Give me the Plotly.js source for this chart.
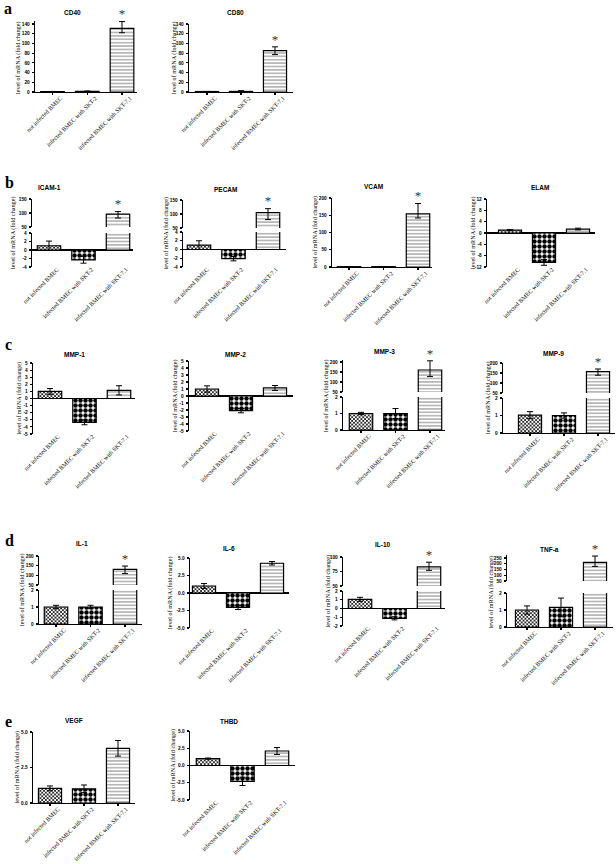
<!DOCTYPE html>
<html><head><meta charset="utf-8">
<script src="https://cdn.plot.ly/plotly-3.0.1.min.js"></script>
<style>html,body{margin:0;padding:0;background:#fff;} #chart{width:616px;height:864px;}</style>
</head><body><div id="chart"></div>
<script>
// ---------------- DATA ----------------
const categories = ["not infected BMEC", "infected BMEC with SKT-2", "infected BMEC with SKT-7.1"];
const yTitle = "level of mRNA (fold change)";

const cd40Values = [1, 1.3, 131];   const cd40ErrPlus = [0.2, 0.8, 14];   const cd40ErrMinus = [0.2, 0.8, 9];   const cd40Sig = [false, false, true];
const cd80Values = [1, 1.2, 85];    const cd80ErrPlus = [0.2, 1.5, 8];    const cd80ErrMinus = [0.2, 1.5, 8];   const cd80Sig = [false, false, true];
const icamValues = [1, -2.3, 96];   const icamErrPlus = [1.1, 0.8, 9];    const icamErrMinus = [1.1, 0.8, 14];  const icamSig = [false, false, true];
const pecamValues = [1, -2.1, 105]; const pecamErrPlus = [1.0, 0.5, 14]; const pecamErrMinus = [1.0, 0.5, 25]; const pecamSig = [false, false, true];
const vcamValues = [1, 1, 154];     const vcamErrPlus = [0.3, 0.3, 30];   const vcamErrMinus = [0.3, 0.3, 12];  const vcamSig = [false, false, true];
const elamValues = [1, -10.4, 1.4]; const elamErrPlus = [0.2, 1.0, 0.3];  const elamErrMinus = [0.2, 1.0, 0.3]; const elamSig = [false, false, false];
const mmp1Values = [1, -3.35, 1.15]; const mmp1ErrPlus = [0.4, 0.35, 0.65]; const mmp1ErrMinus = [0.4, 0.35, 0.65]; const mmp1Sig = [false, false, false];
const mmp2Values = [1, -2.1, 1.15]; const mmp2ErrPlus = [0.45, 0.3, 0.35]; const mmp2ErrMinus = [0.45, 0.3, 0.35]; const mmp2Sig = [false, false, false];
const mmp3Values = [1, 1, 160];     const mmp3ErrPlus = [0.07, 0.3, 46];  const mmp3ErrMinus = [0.07, 0.3, 33]; const mmp3Sig = [false, false, true];
const mmp9Values = [1.02, 1.0, 157]; const mmp9ErrPlus = [0.2, 0.15, 13]; const mmp9ErrMinus = [0.2, 0.15, 18]; const mmp9Sig = [false, false, true];
const il1Values = [1, 1, 131];      const il1ErrPlus = [0.1, 0.1, 17];    const il1ErrMinus = [0.1, 0.1, 22];   const il1Sig = [false, false, true];
const il6Values = [1, -2.05, 4.25]; const il6ErrPlus = [0.35, 0.3, 0.25]; const il6ErrMinus = [0.35, 0.3, 0.25]; const il6Sig = [false, false, false];
const il10Values = [1.05, -1.12, 83]; const il10ErrPlus = [0.23, 0.18, 8]; const il10ErrMinus = [0.23, 0.18, 6]; const il10Sig = [false, false, true];
const tnfValues = [1, 1.15, 212];   const tnfErrPlus = [0.24, 0.55, 55];  const tnfErrMinus = [0.24, 0.55, 35]; const tnfSig = [false, false, true];
const vegfValues = [1.03, 1.0, 3.85]; const vegfErrPlus = [0.17, 0.27, 0.55]; const vegfErrMinus = [0.17, 0.27, 0.55]; const vegfSig = [false, false, false];
const thbdValues = [1, -2.3, 2.1];  const thbdErrPlus = [0.08, 0.6, 0.5]; const thbdErrMinus = [0.08, 0.6, 0.5]; const thbdSig = [false, false, false];

const panelLetters = ["a", "b", "c", "d", "e"];

// ---------------- LAYOUT SPECS (pixel positions) ----------------
const W = 616, H = 864;
const panels = [
 {name:"CD40", v:cd40Values, ep:cd40ErrPlus, em:cd40ErrMinus, sig:cd40Sig, ax:35, c1:52.5, c3:122, xr:137, segs:[{t:24,b:92,r:[0,140],s:20}], tx:72, ty:13, yt:18},
 {name:"CD80", v:cd80Values, ep:cd80ErrPlus, em:cd80ErrMinus, sig:cd80Sig, ax:189, c1:207, c3:275, xr:293, segs:[{t:24,b:92,r:[0,140],s:20}], tx:235, ty:13, yt:174},
 {name:"ICAM-1", v:icamValues, ep:icamErrPlus, em:icamErrMinus, sig:icamSig, ax:32, c1:49, c3:118, xr:133, segs:[{t:233,b:267,r:[-4,4],s:2},{t:199,b:227,r:[50,150],s:50}], tx:49, ty:188, yt:13},
 {name:"PECAM", v:pecamValues, ep:pecamErrPlus, em:pecamErrMinus, sig:pecamSig, ax:183, c1:199, c3:268, xr:286, segs:[{t:232,b:267,r:[-4,4],s:2},{t:200,b:228,r:[50,150],s:50}], tx:225, ty:189, yt:165},
 {name:"VCAM", v:vcamValues, ep:vcamErrPlus, em:vcamErrMinus, sig:vcamSig, ax:332, c1:349, c3:418, xr:432, segs:[{t:198,b:267,r:[0,200],s:50}], tx:374, ty:187, yt:314},
 {name:"ELAM", v:elamValues, ep:elamErrPlus, em:elamErrMinus, sig:elamSig, ax:487, c1:510, c3:578, xr:595, segs:[{t:199,b:267,r:[-12,12],s:4}], tx:540, ty:188, yt:473},
 {name:"MMP-1", v:mmp1Values, ep:mmp1ErrPlus, em:mmp1ErrMinus, sig:mmp1Sig, ax:33, c1:50, c3:119, xr:135, segs:[{t:363,b:434,r:[-5,5],s:1}], tx:74, ty:354, yt:18},
 {name:"MMP-2", v:mmp2Values, ep:mmp2ErrPlus, em:mmp2ErrMinus, sig:mmp2Sig, ax:189, c1:207, c3:275, xr:293, segs:[{t:361,b:431,r:[-5,5],s:1}], tx:235, ty:354, yt:175},
 {name:"MMP-3", v:mmp3Values, ep:mmp3ErrPlus, em:mmp3ErrMinus, sig:mmp3Sig, ax:343, c1:361, c3:430, xr:445, segs:[{t:397,b:430,r:[0,2],s:1},{t:362,b:392,r:[50,200],s:50}], tx:384, ty:351, yt:326},
 {name:"MMP-9", v:mmp9Values, ep:mmp9ErrPlus, em:mmp9ErrMinus, sig:mmp9Sig, ax:503, c1:530, c3:598, xr:615, segs:[{t:398,b:433,r:[0,2],s:1},{t:363,b:393,r:[50,200],s:50}], tx:553, ty:353, yt:488},
 {name:"IL-1", v:il1Values, ep:il1ErrPlus, em:il1ErrMinus, sig:il1Sig, ax:39, c1:56, c3:125, xr:142, segs:[{t:590,b:624,r:[0,2],s:1},{t:556,b:585,r:[50,200],s:50}], tx:82, ty:543, yt:22},
 {name:"IL-6", v:il6Values, ep:il6ErrPlus, em:il6ErrMinus, sig:il6Sig, ax:190, c1:204, c3:272, xr:289, dec:1, segs:[{t:558,b:628,r:[-5,5],s:2.5}], tx:229, ty:548, yt:170},
 {name:"IL-10", v:il10Values, ep:il10ErrPlus, em:il10ErrMinus, sig:il10Sig, ax:343, c1:360, c3:429, xr:445, segs:[{t:591,b:626,r:[-2,2],s:1},{t:557,b:586,r:[50,100],s:25}], tx:383, ty:544, yt:327},
 {name:"TNF-a", v:tnfValues, ep:tnfErrPlus, em:tnfErrMinus, sig:tnfSig, ax:507, c1:527, c3:595, xr:613, segs:[{t:593,b:627,r:[0,2],s:1},{t:558,b:581,r:[50,250],s:50}], tx:549, ty:549, yt:490},
 {name:"VEGF", v:vegfValues, ep:vegfErrPlus, em:vegfErrMinus, sig:vegfSig, ax:33, c1:50, c3:118, xr:135, dec:1, segs:[{t:732,b:803,r:[0,5],s:2.5}], tx:74, ty:720, yt:16},
 {name:"THBD", v:thbdValues, ep:thbdErrPlus, em:thbdErrMinus, sig:thbdSig, ax:190, c1:208, c3:277, xr:295, dec:1, segs:[{t:731,b:800,r:[-5,5],s:2.5}], tx:229, ty:721, yt:172}
];
const letterPos = [[8,9],[9,182],[8,344],[9,540],[8,721]];

// ---------------- STYLE ----------------
const SANS = "Liberation Sans, Arial, sans-serif";
const SERIF = "Liberation Serif, Times New Roman, serif";
const barPattern = {shape:["x", ".", "-"], size:[2.6, 5, 3.4], solidity:[0.5, 0.62, 0.3], fgcolor:["#000", "#000", "#888"], bgcolor:["#fff", "#fff", "#fff"], fillmode:"replace"};

// ---------------- BUILD ----------------
const traces = [];
const layout = {
  width: W, height: H, margin: {l:0, r:0, t:0, b:0}, showlegend: false,
  paper_bgcolor: "#fff", plot_bgcolor: "rgba(0,0,0,0)", bargap: 0.32,
  font: {family: SANS, color: "#000"}, annotations: []
};
let yCount = 0;
panels.forEach((p, i) => {
  const xn = i === 0 ? "x" : "x" + (i + 1);
  const xk = i === 0 ? "xaxis" : "xaxis" + (i + 1);
  const band = (p.c3 - p.c1) / 2;
  const lowSeg = p.segs[0];
  const neg = lowSeg.r[0] < 0;
  let firstY = null, topPx = null;
  p.segs.forEach((s, k) => {
    yCount++;
    const yn = yCount === 1 ? "y" : "y" + yCount;
    const yk = yCount === 1 ? "yaxis" : "yaxis" + yCount;
    if (k === 0) firstY = yn;
    let t = s.t, r1 = s.r[1];
    if (k === p.segs.length - 1) {
      const tops = p.v.map((v, j) => v + p.ep[j]);
      const mx = Math.max(...tops);
      const ppu = (s.b - s.t) / (s.r[1] - s.r[0]);
      if (mx > r1) { const extra = (mx - r1) * ppu + 1; t = s.t - extra; r1 = s.r[1] + extra / ppu; }
      topPx = s.t;
    }
    const tv = [];
    for (let v = s.r[0]; v <= s.r[1] + 1e-9; v += s.s) tv.push(+v.toFixed(4));
    const tt = tv.map(v => v.toFixed(p.dec || 0));
    layout[yk] = {
      domain: [1 - s.b / H, 1 - t / H], range: [s.r[0], r1], anchor: xn,
      tickvals: tv, ticktext: tt, showline: true, linecolor: "#000", linewidth: 1.3,
      ticks: "outside", ticklen: 2, tickwidth: 1.1, tickcolor: "#000",
      tickfont: {size: 4.8, family: SANS, weight: "bold"}, ticklabelstandoff: 1,
      showgrid: false, zeroline: (k === 0 && s.r[0] < 0), zerolinecolor: "#000", zerolinewidth: 1.4,
      fixedrange: true
    };
    traces.push({
      type: "bar", x: categories, y: p.v, xaxis: xn, yaxis: yn, hoverinfo: "skip",
      marker: {color: "#fff", line: {color: "#000", width: 1.2}, pattern: barPattern},
      error_y: {type: "data", symmetric: false, array: p.ep, arrayminus: p.em, color: "#000", thickness: 1, width: 3}
    });
    if (k === p.segs.length - 1) {
      const sx = [], sy = [];
      p.sig.forEach((g, j) => { if (g) { sx.push(categories[j]); sy.push(p.v[j] + p.ep[j]); } });
      if (sx.length) traces.push({
        type: "scatter", mode: "text", x: sx, y: sy, text: sx.map(() => "*"), textposition: "top center",
        textfont: {size: 13, family: SERIF, color: "#333"}, cliponaxis: false,
        xaxis: xn, yaxis: yn, hoverinfo: "skip"
      });
    }
  });
  layout[xk] = {
    domain: [p.ax / W, p.xr / W], type: "category", categoryarray: categories,
    range: [(p.ax - p.c1) / band, (p.xr - p.c1) / band], anchor: firstY,
    showline: !neg, linecolor: "#000", linewidth: 1.3,
    ticks: neg ? "" : "outside", ticklen: 2, tickwidth: 1.1, tickcolor: "#000",
    tickangle: -45, tickfont: {size: 6.1, family: SERIF}, ticklabelstandoff: -3, ticklabelshift: 8,
    showgrid: false, zeroline: false, fixedrange: true
  };
  layout.annotations.push({
    text: "<b>" + p.name + "</b>", x: p.tx / W, y: 1 - p.ty / H, xref: "paper", yref: "paper",
    showarrow: false, xanchor: "center", yanchor: "middle", font: {size: 6.5, family: SANS}
  });
  layout.annotations.push({
    text: yTitle, textangle: -90, x: p.yt / W, y: 1 - ((topPx + lowSeg.b) / 2) / H, xref: "paper", yref: "paper",
    showarrow: false, xanchor: "center", yanchor: "middle", font: {size: 6.2, family: SERIF}
  });
});
panelLetters.forEach((L, i) => {
  layout.annotations.push({
    text: "<b>" + L + "</b>", x: letterPos[i][0] / W, y: 1 - letterPos[i][1] / H, xref: "paper", yref: "paper",
    showarrow: false, xanchor: "center", yanchor: "middle", font: {size: 16, family: SERIF}
  });
});

Plotly.newPlot("chart", traces, layout, {displayModeBar: false, staticPlot: true});
</script>
</body></html>
